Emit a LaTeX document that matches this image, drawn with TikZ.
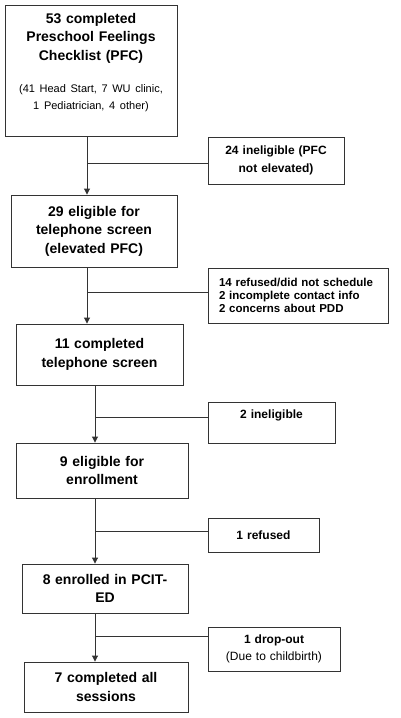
\documentclass[tikz,border=0pt]{standalone}
\usepackage{fontspec}
\setmainfont{Liberation Sans}
\usepackage{tikz}
\usetikzlibrary{arrows.meta}

\newcommand{\flowsmall}{\normalfont\fontsize{11}{17}\selectfont}

\begin{document}
\begin{tikzpicture}
    [x=1pt,y=-1pt,
    box/.style={draw=black!80,line width=0.9pt,align=center,inner sep=0pt,
        font=\bfseries\fontsize{14}{18.5}\selectfont},
    sidebox/.style={draw=black!80,line width=0.9pt,align=center,inner sep=0pt,
        font=\bfseries\fontsize{12}{18}\selectfont},
    flow/.style={-{Triangle[length=6pt,width=6pt]},black!80,line width=0.9pt},
    branch/.style={black!80,line width=0.9pt}]

\useasboundingbox (0,0) rectangle (400,718);

%main boxes
\node (pfc) [box,minimum width=172pt,minimum height=131pt,text width=166pt] at (91,70.5)
    {53 completed\\ Preschool Feelings\\ Checklist (PFC)\\[15pt]
    \flowsmall (41 Head Start, 7 WU clinic,\\ 1 Pediatrician, 4 other)\\ \mbox{}};
\node (elig) [box,minimum width=166pt,minimum height=72pt,text width=160pt] at (94,231)
    {29 eligible for\\ telephone screen\\ (elevated PFC)};
\node (phone) [box,minimum width=167pt,minimum height=61pt,text width=160pt] at (99.5,354.5)
    {11 completed\\ telephone screen};
\node (enrolelig) [box,minimum width=172pt,minimum height=55pt,text width=160pt] at (102,470.5)
    {9 eligible for\\ enrollment};
\node (enrolled) [box,minimum width=166pt,minimum height=49pt,text width=160pt] at (105,588.5)
    {8 enrolled in PCIT-\\ ED};
\node (done) [box,minimum width=164pt,minimum height=50pt,text width=160pt] at (106,687)
    {7 completed all\\ sessions};

%side boxes
\node (out1) [sidebox,minimum width=136pt,minimum height=47pt,text width=130pt] at (276,160.5)
    {24 ineligible (PFC\\ not elevated)};
\node (out2) [sidebox,minimum width=180pt,minimum height=55pt,text width=158pt,align=left,
    font=\bfseries\fontsize{11.5}{13.3}\selectfont] at (298,295.5)
    {14 refused/did not schedule\\ 2 incomplete contact info\\ 2 concerns about PDD};
\node (out3) [sidebox,minimum width=127pt,minimum height=41pt,text width=120pt,text depth=16pt] at (271.5,422.5)
    {2 ineligible};
\node (out4) [sidebox,minimum width=111pt,minimum height=34pt,text width=105pt] at (263.5,535)
    {1 refused};
\node (out5) [sidebox,minimum width=132pt,minimum height=44pt,text width=126pt,
    font=\bfseries\fontsize{12}{17}\selectfont] at (274,649)
    {1 drop-out\\ \normalfont (Due to childbirth)};

%branch points
\coordinate (b1) at (87,163);
\coordinate (b2) at (87,292);
\coordinate (b3) at (95,417);
\coordinate (b4) at (95,531);
\coordinate (b5) at (95,636);

%draw arrows
\draw[flow] (pfc.south -| b1) -- (elig.north -| b1);
\draw[flow] (elig.south -| b2) -- (phone.north -| b2);
\draw[flow] (phone.south -| b3) -- (enrolelig.north -| b3);
\draw[flow] (enrolelig.south -| b4) -- (enrolled.north -| b4);
\draw[flow] (enrolled.south -| b5) -- (done.north -| b5);

%draw branches
\draw[branch] (b1) -- (out1.west |- b1);
\draw[branch] (b2) -- (out2.west |- b2);
\draw[branch] (b3) -- (out3.west |- b3);
\draw[branch] (b4) -- (out4.west |- b4);
\draw[branch] (b5) -- (out5.west |- b5);

\end{tikzpicture}
\end{document}
